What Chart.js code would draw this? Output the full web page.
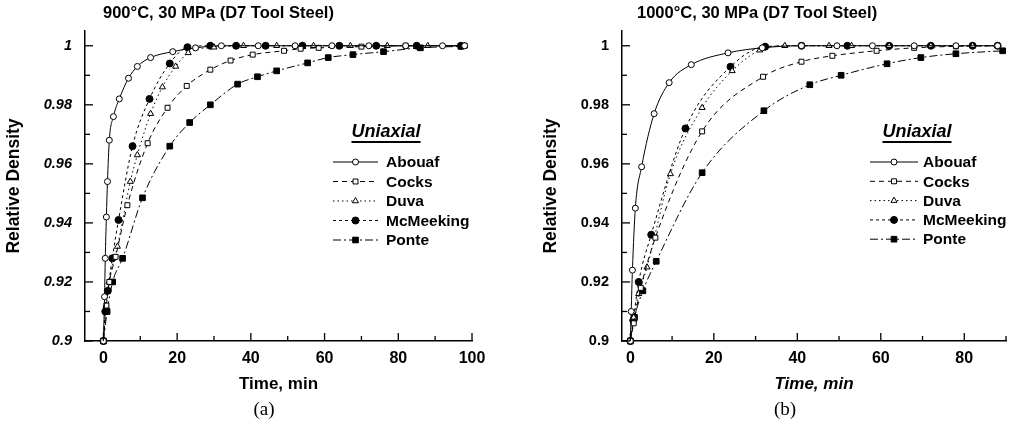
<!DOCTYPE html>
<html>
<head>
<meta charset="utf-8">
<script src="https://cdn.jsdelivr.net/npm/chart.js@4.4.0/dist/chart.umd.min.js"></script>
<style>
  body { margin: 0; background: #fff; }
  #page { position: relative; width: 1011px; height: 428px; overflow: hidden; font-family: "Liberation Sans", Arial, sans-serif; }
  canvas { position: absolute; top: 0; }
  .title { position: absolute; top: 3px; font-weight: bold; font-size: 16.5px; color: #000; white-space: nowrap; }
  .caption { position: absolute; top: 398px; width: 40px; margin-left: -20px; text-align: center; font-family: "Liberation Serif", "Times New Roman", serif; font-size: 19px; color: #000; }
</style>
</head>
<body>
<div id="page">
  <canvas id="chartA" width="500" height="428" style="left:0"></canvas>
  <canvas id="chartB" width="511" height="428" style="left:500px"></canvas>
  <div class="title" style="left:103px">900°C, 30 MPa (D7 Tool Steel)</div>
  <div class="title" style="left:637px">1000°C, 30 MPa (D7 Tool Steel)</div>
  <div class="caption" style="left:264px">(a)</div>
  <div class="caption" style="left:785px">(b)</div>
</div>
<script>
// model names, in legend order
const models = ['Abouaf', 'Cocks', 'Duva', 'McMeeking', 'Ponte'];

// 900 C: [time (min), relative density]
const abouaf900 = [[0,0.9],[0.3,0.915],[0.5,0.928],[0.8,0.942],[1.1,0.954],[1.6,0.968],[2.7,0.976],[4.3,0.982],[6.8,0.989],[9.2,0.993],[12.8,0.996],[18.8,0.998],[25,0.9993],[32,1],[42,1],[52,1],[62,1],[72,1],[82,1],[92,1],[98,1]];
const cocks900 = [[0,0.9],[0.8,0.912],[1.6,0.92],[3.3,0.9285],[6.5,0.946],[12,0.967],[17.4,0.979],[22.6,0.9864],[29,0.9919],[34.5,0.995],[40.5,0.997],[49,0.9983],[53.5,0.999],[58.4,0.9993],[70,0.9997],[82,1],[98,1]];
const duva900 = [[0,0.9],[0.7,0.912],[1.5,0.92],[3.8,0.932],[7.3,0.954],[9.2,0.963],[12.8,0.977],[16,0.986],[19.6,0.993],[23,0.9976],[30,0.9995],[38,1],[47,1],[57,1],[67,1],[77,1],[88,1],[98,1]];
const mcmeeking900 = [[0,0.9],[0.5,0.91],[1.2,0.917],[2.4,0.928],[4.1,0.941],[7.9,0.966],[12.5,0.982],[18,0.994],[22.8,0.9995],[29,1],[36,1],[44,1],[54,1],[64,1],[74,1],[85,1],[97,1]];
const ponte900 = [[0,0.9],[1,0.91],[2.5,0.92],[5.2,0.928],[10.6,0.9485],[18,0.966],[23.4,0.974],[29,0.98],[36.4,0.987],[41.8,0.9895],[47,0.9915],[55.4,0.9942],[61,0.996],[67.7,0.997],[76,0.998],[86,0.9993],[97,0.9998]];

// 1000 C: [time (min), relative density]
const abouaf1000 = [[0,0.9],[0.2,0.91],[0.5,0.924],[1.2,0.945],[2.7,0.959],[5.7,0.977],[9.3,0.9875],[14.6,0.9936],[23.4,0.9976],[31.6,0.9993],[41,1],[49.5,1],[58,1],[68,1],[78,1],[88,1]];
const cocks1000 = [[0,0.9],[0.8,0.906],[2.5,0.918],[6,0.935],[17.2,0.971],[31.8,0.9895],[41,0.9946],[48.4,0.9966],[59,0.9983],[68,0.9993],[78,0.9998],[88,1]];
const duva1000 = [[0,0.9],[0.8,0.908],[2,0.916],[4,0.925],[9.6,0.9566],[17.2,0.979],[24.4,0.9915],[31,0.9985],[37,1],[47.6,1],[53,1],[62,1],[72,1],[82,1],[88,1]];
const mcmeeking1000 = [[0,0.9],[0.7,0.907],[2,0.92],[5,0.936],[13.2,0.972],[24,0.9929],[32.3,0.9997],[41,1],[52,1],[62,1],[72,1],[82,1],[88,1]];
const ponte1000 = [[0,0.9],[1,0.908],[3,0.917],[6.2,0.927],[17.2,0.957],[32,0.978],[43,0.9868],[50.5,0.99],[61.5,0.9939],[69.6,0.996],[78,0.9973],[89.2,0.9983]];

// axis ticks
const yTicks = [0.9, 0.92, 0.94, 0.96, 0.98, 1];
const xTicksA = [0, 20, 40, 60, 80, 100];
const xTicksB = [0, 20, 40, 60, 80];

const FONT = '"Liberation Sans", Arial, sans-serif';

// line / marker style of each model
const styles = [
  { borderDash: [], pointStyle: 'circle', pointRadius: 3, pointBackgroundColor: '#fff' },
  { borderDash: [5, 4], pointStyle: 'rect', pointRadius: 3.5, pointBackgroundColor: '#fff' },
  { borderDash: [1.5, 3], pointStyle: 'triangle', pointRadius: 3.5, pointBackgroundColor: '#fff' },
  { borderDash: [3, 3], pointStyle: 'circle', pointRadius: 3.5, pointBackgroundColor: '#000' },
  { borderDash: [8, 3, 2, 3], pointStyle: 'rect', pointRadius: 4, pointBackgroundColor: '#000' }
];

function makeDatasets(series) {
  return series.map((pts, i) => Object.assign({
    label: models[i],
    data: pts.map(p => ({ x: p[0], y: p[1] })),
    showLine: true,
    borderColor: '#000',
    borderWidth: 1,
    pointBorderColor: '#000',
    pointBorderWidth: 1,
    cubicInterpolationMode: 'monotone',
    clip: false
  }, styles[i]));
}

// short inward tick marks (major + minor) along both axes
const innerTicks = {
  id: 'innerTicks',
  afterDraw(chart) {
    const ctx = chart.ctx;
    const { left, bottom } = chart.chartArea;
    ctx.save();
    ctx.strokeStyle = '#000';
    ctx.lineWidth = 1.3;
    ['x', 'y'].forEach(id => {
      const s = chart.scales[id];
      const vals = s.ticks.map(t => t.value);
      const step = vals[1] - vals[0];
      vals.forEach(v => {
        [[v, 8], [v + step / 2, 5]].forEach(([val, len]) => {
          if (val < s.min - 1e-9 || val > s.max + 1e-9) return;
          const p = s.getPixelForValue(val);
          ctx.beginPath();
          if (id === 'x') { ctx.moveTo(p, bottom); ctx.lineTo(p, bottom - len); }
          else { ctx.moveTo(left, p); ctx.lineTo(left + len, p); }
          ctx.stroke();
        });
      });
    });
    ctx.restore();
  }
};

// legend drawn inside the plot with line samples
const uniaxialLegend = {
  id: 'uniaxialLegend',
  afterDraw(chart, args, o) {
    const ctx = chart.ctx;
    ctx.save();
    ctx.fillStyle = '#000';
    ctx.font = 'italic bold 18px ' + FONT;
    ctx.textAlign = 'center';
    ctx.textBaseline = 'middle';
    ctx.fillText(o.title, o.titleX, o.titleY);
    const w = ctx.measureText(o.title).width;
    ctx.fillRect(o.titleX - w / 2, o.titleY + 9, w, 2);

    ctx.font = 'bold 15.5px ' + FONT;
    ctx.textAlign = 'left';
    chart.data.datasets.forEach((ds, i) => {
      const y = o.rowY + i * o.rowGap;
      ctx.beginPath();
      ctx.setLineDash(ds.borderDash);
      ctx.lineWidth = 1;
      ctx.strokeStyle = '#000';
      ctx.moveTo(o.lineX, y);
      ctx.lineTo(o.lineX + o.lineW, y);
      ctx.stroke();
      ctx.setLineDash([]);
      ctx.fillStyle = ds.pointBackgroundColor;
      Chart.helpers.drawPoint(ctx, { pointStyle: ds.pointStyle, radius: ds.pointRadius, borderWidth: 1, rotation: 0 },
        o.lineX + o.lineW / 2, y);
      ctx.fillStyle = '#000';
      ctx.fillText(ds.label, o.textX, y + 1);
    });
    ctx.restore();
  }
};

function makeChart(id, series, cfg) {
  return new Chart(document.getElementById(id), {
    type: 'scatter',
    data: { datasets: makeDatasets(series) },
    options: {
      responsive: false,
      animation: false,
      layout: { padding: cfg.padding },
      plugins: {
        legend: { display: false },
        tooltip: { enabled: false },
        uniaxialLegend: cfg.legend
      },
      scales: {
        x: {
          type: 'linear',
          min: cfg.xMin,
          max: cfg.xMax,
          afterBuildTicks: s => { s.ticks = cfg.xTicks.map(v => ({ value: v })); },
          afterFit: s => { s.height = 54; },
          ticks: { padding: 8, color: '#000', font: { family: FONT, size: 16, weight: 'bold' } },
          grid: { display: false, drawTicks: false },
          border: { display: true, color: '#000', width: 1.5 },
          title: { display: true, text: 'Time, min', color: '#000', padding: 0,
                   font: { family: FONT, size: 17, weight: 'bold', style: cfg.xTitleStyle } }
        },
        y: {
          min: 0.9,
          max: 1.005,
          afterBuildTicks: s => { s.ticks = yTicks.map(v => ({ value: v })); },
          afterFit: s => { s.width = cfg.yWidth; },
          ticks: { padding: 13, color: '#000', callback: v => String(+v.toFixed(2)),
                   font: { family: FONT, size: 14.5, weight: 'bold', style: cfg.yTickStyle } },
          grid: { display: false, drawTicks: false },
          border: { display: true, color: '#000', width: 1.5 },
          title: { display: true, text: 'Relative Density', color: '#000', padding: 0,
                   font: { family: FONT, size: 17.5, weight: 'bold' } }
        }
      }
    },
    plugins: [innerTicks, uniaxialLegend]
  });
}

makeChart('chartA', [abouaf900, cocks900, duva900, mcmeeking900, ponte900], {
  padding: { left: 4, right: 28, top: 31, bottom: 33 },
  xMin: -5, xMax: 100, xTicks: xTicksA, yWidth: 81,
  xTitleStyle: 'normal', yTickStyle: 'italic',
  legend: { title: 'Uniaxial', titleX: 386, titleY: 132, rowY: 162, rowGap: 19.5, lineX: 333, lineW: 45, textX: 386 }
});

makeChart('chartB', [abouaf1000, cocks1000, duva1000, mcmeeking1000, ponte1000], {
  padding: { left: 41, right: 3, top: 31, bottom: 33 },
  xMin: -2, xMax: 90, xTicks: xTicksB, yWidth: 81,
  xTitleStyle: 'italic', yTickStyle: 'normal',
  legend: { title: 'Uniaxial', titleX: 417, titleY: 132, rowY: 162, rowGap: 19.3, lineX: 370, lineW: 48, textX: 423 }
});
</script>
</body>
</html>
